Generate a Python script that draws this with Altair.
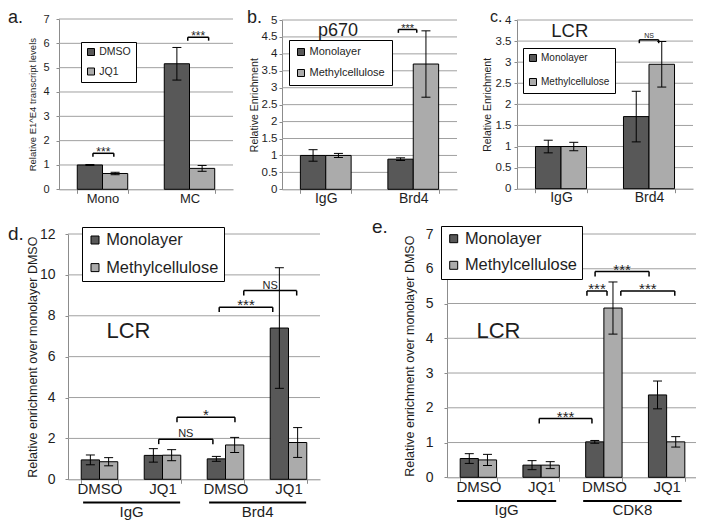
import altair as alt
import pandas as pd

FONT = "Liberation Sans"
DARK = "#585858"
LIGHT = "#ababab"
GRID = "#a0a0a0"
AXC = "#8c8c8c"
INK = "#1e1e1e"

# ---------------- data ----------------
a_cats = ["Mono", "MC"]
a_series = ["DMSO", "JQ1"]
a_dmso = [1.00, 5.16]
a_dmso_err = [0.02, 0.67]
a_jq1 = [0.65, 0.86]
a_jq1_err = [0.05, 0.12]

ml_series = ["Monolayer", "Methylcellulose"]

b_cats = ["IgG", "Brd4"]
b_mono = [1.00, 0.89]
b_mono_err = [0.17, 0.04]
b_meth = [1.00, 3.70]
b_meth_err = [0.06, 0.98]

c_cats = ["IgG", "Brd4"]
c_mono = [1.00, 1.71]
c_mono_err = [0.15, 0.60]
c_meth = [1.00, 2.95]
c_meth_err = [0.10, 0.54]

d_cats = ["IgG|DMSO", "IgG|JQ1", "Brd4|DMSO", "Brd4|JQ1"]
d_mono = [0.95, 1.17, 1.00, 7.40]
d_mono_err = [0.24, 0.33, 0.12, 2.95]
d_meth = [0.86, 1.18, 1.68, 1.80]
d_meth_err = [0.20, 0.27, 0.37, 0.73]

e_cats = ["IgG|DMSO", "IgG|JQ1", "CDK8|DMSO", "CDK8|JQ1"]
e_mono = [0.54, 0.35, 1.02, 2.37]
e_mono_err = [0.14, 0.13, 0.04, 0.40]
e_meth = [0.50, 0.35, 4.87, 1.02]
e_meth_err = [0.16, 0.10, 0.75, 0.15]

# significance brackets: start, end (category units), level, label
a_br_x1 = [0.39, 1.48]
a_br_x2 = [0.63, 1.72]
a_br_y = [1.48, 6.25]
a_br_lab = ["***", "***"]

b_br_x1 = [1.33]
b_br_x2 = [1.54]
b_br_y = [4.72]
b_br_lab = ["***"]

c_br_x1 = [1.39]
c_br_x2 = [1.61]
c_br_y = [3.53]
c_br_lab = ["NS"]

d_br_x1 = [1.44, 1.73, 2.40, 2.79]
d_br_x2 = [2.30, 2.65, 3.25, 3.63]
d_br_y = [1.96, 3.03, 8.42, 9.23]
d_br_lab = ["NS", "*", "***", "NS"]

e_br_x1 = [1.47, 2.23, 2.36, 2.77]
e_br_x2 = [2.31, 2.55, 3.22, 3.63]
e_br_y = [1.69, 5.36, 5.92, 5.36]
e_br_lab = ["***", "***", "***", "***"]

d_groups = ["IgG", "Brd4"]
d_grp_x1 = [0.24, 2.24]
d_grp_x2 = [1.78, 3.78]
e_groups = ["IgG", "CDK8"]
e_grp_x1 = [0.16, 2.17]
e_grp_x2 = [1.74, 3.74]

# ---------------- layout (chart pixel geometry) ----------------
W, H = 688, 518
G = {
    "a": dict(x0=51, x1=225, yb=181.3, yt=11, ymax=7, yticks=list(range(0, 8)), lpad=7, lfs=11,
              ytitle="Relative E1^E4 transcript levels", tfs=9.5, ext=16, tpad=5.6, xfs=13, xlpad=-1,
              cap=9, sfs=12, nfs=8, leg=dict(x=73, y=34, pad=4.75, fs=10.5, sym=49, rp=7.5)),
    "b": dict(x0=274, x1=449, yb=181.3, yt=12, ymax=5, yticks=[i / 2 for i in range(0, 11)], lpad=2, lfs=11.5,
              ytitle="Relative Enrichment", tfs=10.5, ext=21, tpad=1.7, xfs=14, xlpad=-2,
              cap=9, sfs=11, nfs=8, leg=dict(x=281, y=32, pad=6.5, fs=11, sym=49, rp=9)),
    "c": dict(x0=509, x1=685, yb=180.7, yt=12, ymax=4, yticks=[i / 2 for i in range(0, 9)], lpad=3, lfs=11.5,
              ytitle="Relative Enrichment", tfs=10.5, ext=22, tpad=2.3, xfs=14, xlpad=-2,
              cap=9, sfs=11, nfs=7, leg=dict(x=515, y=40, pad=5, fs=10, sym=49, rp=12)),
    "d": dict(x0=60, x1=312, yb=471.3, yt=226, ymax=12, yticks=list(range(0, 13, 2)), lpad=10, lfs=14,
              ytitle="Relative enrichment over monolayer DMSO", tfs=12.5, ext=29, tpad=0, xfs=15, xlpad=-2,
              cap=9, sfs=15, nfs=11, leg=dict(x=74, y=219, pad=4.8, fs=16.4, sym=64, rp=10.6),
              gline=-1.14, glab=-1.84),
    "e": dict(x0=439, x1=690, yb=469.3, yt=226, ymax=7, yticks=list(range(0, 8)), lpad=11, lfs=14,
              ytitle="Relative enrichment over monolayer DMSO", tfs=12.5, ext=22, tpad=9, xfs=15, xlpad=-2,
              cap=9, sfs=15, nfs=11, leg=dict(x=433, y=218, pad=4.5, fs=16.4, sym=64, rp=9.6),
              gline=-0.68, glab=-1.09),
}


def bar_table(cats, series, vals, errs):
    rows = []
    for s, v, e in zip(series, vals, errs):
        for c, vi, ei in zip(cats, v, e):
            rows.append({"cat": c, "series": s, "value": vi, "lo": vi - ei, "hi": vi + ei})
    return pd.DataFrame(rows)


def make_panel(cats, series, vals, errs, g, br, texts, groups=None, split_labels=False):
    df = bar_table(cats, series, vals, errs)
    n = len(cats)
    xs = alt.Scale(domain=cats, range=[g["x0"], g["x1"]], paddingInner=0.42, paddingOuter=0.21)
    os_ = alt.Scale(domain=series, paddingInner=0, paddingOuter=0)
    ys = alt.Scale(domain=[0, g["ymax"]], range=[g["yb"], g["yt"]], nice=False, zero=False)
    xl = alt.Scale(domain=[0, n], range=[g["x0"], g["x1"]], nice=False, zero=False)

    yaxis = alt.Axis(orient="left", offset=-g["x0"], values=g["yticks"], format="~g", grid=False,
                     domainColor=AXC, tickColor=AXC, tickSize=3,
                     labelPadding=g["lpad"], labelFontSize=g["lfs"], labelColor=INK, labelFont=FONT,
                     title=g["ytitle"], titleFont=FONT, titleFontSize=g["tfs"], titleFontWeight="normal",
                     titleColor=INK, minExtent=g["ext"], maxExtent=g["ext"], titlePadding=g["tpad"],
                     labelFlush=False, labelOverlap=False)
    xkw = dict(orient="bottom", offset=g["yb"] - H, title=None, labelAngle=0, domainColor=AXC,
               tickColor=AXC, tickSize=4, tickBand="extent", labelPadding=g["xlpad"],
               labelFontSize=g["xfs"], labelFont=FONT, labelColor=INK, grid=False)
    if split_labels:
        xkw["labelExpr"] = "split(datum.label, '|')[1]"
    xaxis = alt.Axis(**xkw)
    lg = g["leg"]
    legend = alt.Legend(orient="none", legendX=lg["x"], legendY=lg["y"], title=None, direction="vertical",
                        strokeColor="black", fillColor="white", padding=lg["pad"], symbolType="square",
                        symbolSize=lg["sym"], symbolStrokeColor="black", symbolStrokeWidth=1,
                        labelFontSize=lg["fs"], labelFont=FONT, labelColor=INK, rowPadding=lg["rp"],
                        labelOffset=3)

    out = []
    # horizontal gridlines at the tick values
    gdf_ = pd.DataFrame({"v": g["yticks"][1:]})
    out.append(alt.Chart(gdf_).transform_calculate(ga="0", gb=str(n)).mark_rule(
        color=GRID, strokeWidth=1).encode(
        x=alt.X("ga:Q", scale=xl, axis=None), x2="gb:Q", y=alt.Y("v:Q", scale=ys, axis=None)))

    out.append(alt.Chart(df).mark_bar(stroke="black", strokeWidth=1, opacity=1).encode(
        x=alt.X("cat:N", scale=xs, axis=xaxis),
        xOffset=alt.XOffset("series:N", scale=os_),
        y=alt.Y("value:Q", scale=ys, axis=yaxis),
        color=alt.Color("series:N", scale=alt.Scale(domain=series, range=[DARK, LIGHT]), legend=legend),
    ))
    ex = alt.X("cat:N", scale=xs, axis=None)
    eo = alt.XOffset("series:N", scale=os_)
    out.append(alt.Chart(df).mark_rule(color="black", strokeWidth=1).encode(
        x=ex, xOffset=eo, y=alt.Y("lo:Q", scale=ys, axis=None), y2="hi:Q"))
    out.append(alt.Chart(df).transform_fold(["lo", "hi"], as_=["end", "cap"]).mark_tick(
        color="black", thickness=1, size=g["cap"], opacity=1).encode(
        x=ex, xOffset=eo, y=alt.Y("cap:Q", scale=ys, axis=None)))

    bx1, bx2, by, blab = br
    bdf = pd.DataFrame({"x1": bx1, "x2": bx2, "y": by, "lab": blab})
    tk = g["ymax"] * 0.02
    bb = alt.Chart(bdf).transform_calculate(yt=f"datum.y - {tk}", xm="(datum.x1 + datum.x2) / 2")
    YY = alt.Y("y:Q", scale=ys, axis=None)
    out.append(bb.mark_rule(color="black", strokeWidth=1.5).encode(
        x=alt.X("x1:Q", scale=xl, axis=None), x2="x2:Q", y=YY))
    out.append(bb.mark_rule(color="black", strokeWidth=1.5).encode(
        x=alt.X("x1:Q", scale=xl, axis=None), y=YY, y2="yt:Q"))
    out.append(bb.mark_rule(color="black", strokeWidth=1.5).encode(
        x=alt.X("x2:Q", scale=xl, axis=None), y=YY, y2="yt:Q"))
    out.append(bb.transform_filter("datum.lab != 'NS'").mark_text(
        font=FONT, fontSize=g["sfs"], dy=3, color=INK, baseline="alphabetic").encode(
        x=alt.X("xm:Q", scale=xl, axis=None), y=YY, text="lab:N"))
    out.append(bb.transform_filter("datum.lab == 'NS'").mark_text(
        font=FONT, fontSize=g["nfs"], dy=-2, color=INK, baseline="alphabetic").encode(
        x=alt.X("xm:Q", scale=xl, axis=None), y=YY, text="lab:N"))

    for (t, tx, ty, fs) in texts:
        tdf = pd.DataFrame({"t": [t], "x": [tx], "y": [ty]})
        out.append(alt.Chart(tdf).mark_text(font=FONT, fontSize=fs, color=INK, baseline="alphabetic").encode(
            x=alt.X("x:Q", scale=xl, axis=None), y=alt.Y("y:Q", scale=ys, axis=None), text="t:N"))

    if groups is not None:
        gn, gx1, gx2 = groups
        gdf = pd.DataFrame({"g": gn, "x1": gx1, "x2": gx2})
        gb = alt.Chart(gdf).transform_calculate(
            gl=str(g["gline"]), gt=str(g["glab"]), xm="(datum.x1 + datum.x2) / 2")
        out.append(gb.mark_rule(color="black", strokeWidth=2).encode(
            x=alt.X("x1:Q", scale=xl, axis=None), x2="x2:Q", y=alt.Y("gl:Q", scale=ys, axis=None)))
        out.append(gb.mark_text(font=FONT, fontSize=g["xfs"], color=INK, baseline="alphabetic").encode(
            x=alt.X("xm:Q", scale=xl, axis=None), y=alt.Y("gt:Q", scale=ys, axis=None), text="g:N"))

    return out


def letter(t, x, y, fs):
    return alt.Chart(pd.DataFrame({"t": [t]})).mark_text(
        font=FONT, fontSize=fs, color=INK, align="left", baseline="alphabetic").encode(
        x=alt.value(x), y=alt.value(y), text="t:N")


children = []
children += make_panel(a_cats, a_series, [a_dmso, a_jq1], [a_dmso_err, a_jq1_err], G["a"],
                       (a_br_x1, a_br_x2, a_br_y, a_br_lab), [])
children += make_panel(b_cats, ml_series, [b_mono, b_meth], [b_mono_err, b_meth_err], G["b"],
                       (b_br_x1, b_br_x2, b_br_y, b_br_lab), [("p670", 0.64, 4.54, 18)])
children += make_panel(c_cats, ml_series, [c_mono, c_meth], [c_mono_err, c_meth_err], G["c"],
                       (c_br_x1, c_br_x2, c_br_y, c_br_lab), [("LCR", 0.6, 3.59, 18.5)])
children += make_panel(d_cats, ml_series, [d_mono, d_meth], [d_mono_err, d_meth_err], G["d"],
                       (d_br_x1, d_br_x2, d_br_y, d_br_lab), [("LCR", 0.96, 6.93, 22)],
                       groups=(d_groups, d_grp_x1, d_grp_x2), split_labels=True)
children += make_panel(e_cats, ml_series, [e_mono, e_meth], [e_mono_err, e_meth_err], G["e"],
                       (e_br_x1, e_br_x2, e_br_y, e_br_lab), [("LCR", 0.82, 4.0, 22)],
                       groups=(e_groups, e_grp_x1, e_grp_x2), split_labels=True)
children += [
    letter("a.", 0, 14.5, 18),
    letter("b.", 239, 14.5, 18),
    letter("c.", 482, 13.5, 16),
    letter("d.", 0, 232, 19),
    letter("e.", 364, 225, 19),
]

chart = alt.layer(*children).resolve_scale(
    x="independent", y="independent", color="independent", xOffset="independent"
).resolve_axis(x="independent", y="independent").resolve_legend(color="independent").properties(
    width=W, height=H, autosize=alt.AutoSizeParams(type="none"), padding=0, background="white"
).configure(font=FONT).configure_view(stroke=None)

chart.save("out.html", embed_options={"renderer": "svg", "actions": False})
